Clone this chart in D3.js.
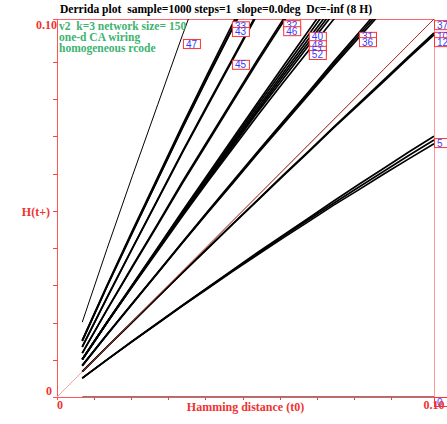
<!DOCTYPE html>
<html>
<head>
<meta charset="utf-8">
<script src="https://cdn.jsdelivr.net/npm/d3@7/dist/d3.min.js"></script>
<style>
  html, body { margin: 0; padding: 0; background: #fff; }
  svg { display: block; }
  text { white-space: pre; }
</style>
</head>
<body>
<svg id="chart" width="447" height="424"></svg>
<script>
// ---- data ----
const hamming = [0.0067, 0.0133, 0.0200, 0.0267, 0.0333, 0.0400, 0.0467, 0.0533,
                 0.0600, 0.0667, 0.0733, 0.0800, 0.0867, 0.0933, 0.1000];

const rule47 = [0.0198, 0.0393, 0.0585, 0.0773, 0.0958, 0.1139];
const rule33 = [0.0150, 0.0296, 0.0440, 0.0581, 0.0720, 0.0856, 0.0990, 0.1120];
const rule43 = [0.0149, 0.0294, 0.0436, 0.0576, 0.0714, 0.0848, 0.0980, 0.1110];
const rule44 = [0.0148, 0.0293, 0.0435, 0.0575, 0.0712, 0.0846, 0.0977, 0.1105];
const rule45 = [0.0132, 0.0263, 0.0393, 0.0521, 0.0647, 0.0771, 0.0894, 0.1015];
const rule41 = [0.0133, 0.0264, 0.0394, 0.0523, 0.0650, 0.0775, 0.0898, 0.1020];
const rule32 = [0.0116, 0.0232, 0.0346, 0.0458, 0.0570, 0.0679, 0.0787, 0.0894, 0.0999, 0.1102];
const rule46 = [0.0116, 0.0231, 0.0344, 0.0455, 0.0566, 0.0674, 0.0782, 0.0888, 0.0992, 0.1095];
const rule40 = [0.0100, 0.0199, 0.0297, 0.0395, 0.0492, 0.0589, 0.0685, 0.0780, 0.0875, 0.0969, 0.1062];
const rule42 = [0.0100, 0.0198, 0.0296, 0.0393, 0.0489, 0.0585, 0.0679, 0.0773, 0.0866, 0.0958, 0.1049];
const rule48 = [0.0099, 0.0198, 0.0295, 0.0391, 0.0487, 0.0581, 0.0674, 0.0766, 0.0857, 0.0947, 0.1035];
const rule49 = [0.0099, 0.0197, 0.0294, 0.0390, 0.0484, 0.0578, 0.0669, 0.0760, 0.0850, 0.0938, 0.1024];
const rule51 = [0.0099, 0.0197, 0.0294, 0.0389, 0.0482, 0.0574, 0.0665, 0.0755, 0.0842, 0.0929, 0.1014];
const rule52 = [0.0099, 0.0197, 0.0292, 0.0386, 0.0479, 0.0570, 0.0659, 0.0746, 0.0832, 0.0916, 0.0998, 0.1078];
const rule31 = [0.0083, 0.0166, 0.0248, 0.0329, 0.0410, 0.0491, 0.0571, 0.0650, 0.0729, 0.0807, 0.0886, 0.0963, 0.1040];
const rule34 = [0.0083, 0.0166, 0.0247, 0.0328, 0.0409, 0.0489, 0.0568, 0.0647, 0.0726, 0.0803, 0.0880, 0.0957, 0.1032];
const rule36 = [0.0083, 0.0165, 0.0247, 0.0328, 0.0408, 0.0488, 0.0566, 0.0645, 0.0722, 0.0799, 0.0875, 0.0950, 0.1025];
const rule10 = [0.0067, 0.0133, 0.0199, 0.0264, 0.0329, 0.0394, 0.0459, 0.0522, 0.0587, 0.0650, 0.0713, 0.0776, 0.0839, 0.0901, 0.0963];
const rule12 = [0.0067, 0.0133, 0.0198, 0.0264, 0.0329, 0.0393, 0.0458, 0.0521, 0.0585, 0.0648, 0.0711, 0.0773, 0.0835, 0.0897, 0.0958];
const rule5  = [0.0050, 0.0099, 0.0147, 0.0195, 0.0242, 0.0289, 0.0335, 0.0380, 0.0425, 0.0469, 0.0512, 0.0555, 0.0597, 0.0639, 0.0680];
const rule6  = [0.0050, 0.0099, 0.0148, 0.0196, 0.0243, 0.0290, 0.0337, 0.0383, 0.0428, 0.0473, 0.0518, 0.0562, 0.0605, 0.0648, 0.0690];
const rule7  = [0.0050, 0.0099, 0.0147, 0.0194, 0.0241, 0.0287, 0.0333, 0.0377, 0.0421, 0.0464, 0.0507, 0.0548, 0.0590, 0.0630, 0.0670];
const rule37 = [0.0067, 0.0133, 0.0200, 0.0267, 0.0333, 0.0400, 0.0467, 0.0533,
                0.0600, 0.0667, 0.0733, 0.0800, 0.0867, 0.0933, 0.1000];
const rule0  = [0, 0, 0, 0, 0, 0, 0, 0, 0, 0, 0, 0, 0, 0, 0];

const thinSeries  = [rule47];
const thickSeries = [rule33, rule43, rule44, rule45, rule41, rule32, rule46,
                     rule40, rule42, rule48, rule49, rule51, rule52, rule31, rule34, rule36,
                     rule10, rule12, rule5, rule6, rule7];

// rule-number tags: name, H(t0), H(t+) of the tag's top-left corner
const tagNames = ["47", "33", "43", "45", "32", "46", "40", "48", "51", "52", "31", "36", "37", "10", "12", "5", "0"];
const tagX     = [0.0334, 0.0464, 0.0464, 0.0464, 0.0600, 0.0600, 0.0668, 0.0668, 0.0668, 0.0668, 0.0801, 0.0801, 0.1000, 0.1000, 0.1000, 0.1000, 0.1000];
const tagY     = [0.0947, 0.0994, 0.0979, 0.0892, 0.0997, 0.0981, 0.0966, 0.0944, 0.0929, 0.0918, 0.0966, 0.0952, 0.0997, 0.0966, 0.0952, 0.0685, 0.0000];

const tickValues = [0.00985, 0.0197, 0.02954, 0.03938, 0.04923, 0.05908, 0.06892, 0.07877, 0.08862];

const titleText = "Derrida plot  sample=1000 steps=1  slope=0.0deg  Dc=-inf (8 H)";
const infoLines = ["v2  k=3 network size= 150", "one-d CA wiring", "homogeneous rcode"];

// ---- drawing ----
const svg = d3.select("#chart");
const x = d3.scaleLinear().domain([0, 0.1]).range([57, 434]);
const y = d3.scaleLinear().domain([0, 0.1]).range([397, 19]);

const serif = "'Liberation Serif', 'Times New Roman', serif";
const red = "#ee3333";

svg.append("defs").append("clipPath").attr("id", "plotclip")
  .append("rect").attr("x", 57).attr("y", 19).attr("width", 377).attr("height", 378);

// frame
svg.append("line").attr("x1", x(0)).attr("x2", x(0.1)).attr("y1", y(0.1) + 0.5).attr("y2", y(0.1) + 0.5)
  .attr("stroke", "#f66").attr("stroke-width", 1);
svg.append("line").attr("x1", x(0.1) + 0.5).attr("x2", x(0.1) + 0.5).attr("y1", y(0.1)).attr("y2", y(0))
  .attr("stroke", "#f99").attr("stroke-width", 1);

// axes
const xAxis = d3.axisBottom(x).tickValues(tickValues).tickSize(3).tickFormat("");
const yAxis = d3.axisLeft(y).tickValues(tickValues).tickSize(4).tickFormat("");
const gx = svg.append("g").attr("transform", `translate(0,${y(0)})`).call(xAxis);
const gy = svg.append("g").attr("transform", `translate(${x(0)},0)`).call(yAxis);
[gx, gy].forEach(g => {
  g.select(".domain").attr("stroke", "#f55").attr("shape-rendering", "crispEdges");
  g.selectAll(".tick line").attr("stroke", "#e44").attr("shape-rendering", "crispEdges");
});

// reference diagonal y = x
svg.append("line").attr("x1", x(0)).attr("y1", y(0)).attr("x2", x(0.1)).attr("y2", y(0.1))
  .attr("stroke", "#f7a0a0").attr("stroke-width", 1);

const line = d3.line().x((d, i) => x(hamming[i])).y(d => y(d));
const plot = svg.append("g").attr("clip-path", "url(#plotclip)");

plot.selectAll("path.thin").data(thinSeries).enter().append("path")
  .attr("class", "thin")
  .attr("d", d => line(d))
  .attr("fill", "none").attr("stroke", "#000").attr("stroke-width", 1);

plot.selectAll("path.thick").data(thickSeries).enter().append("path")
  .attr("class", "thick")
  .attr("d", d => line(d))
  .attr("fill", "none").attr("stroke", "#000").attr("stroke-width", 1.7);

plot.append("path").attr("d", line(rule37)).attr("fill", "none")
  .attr("stroke", "#a83030").attr("stroke-width", 1);
plot.append("path").attr("d", line(rule0)).attr("fill", "none")
  .attr("stroke", "#555").attr("stroke-width", 1.5);

// tags
const tags = svg.append("g");
tagNames.forEach((name, i) => {
  const tx = x(tagX[i]), ty = y(tagY[i]);
  tags.append("rect").attr("x", tx + 0.5).attr("y", ty + 0.5).attr("width", 17).attr("height", 9)
    .attr("fill", "#fff").attr("stroke", "#f33").attr("stroke-width", 1);
  tags.append("text").attr("x", tx + 3).attr("y", ty + 8.5).text(name)
    .attr("font-family", "'Liberation Sans', Arial, sans-serif").attr("font-size", 10)
    .attr("fill", "#3b3bff");
});

// texts
svg.append("text").attr("x", 60).attr("y", 13)
  .attr("textLength", 312).attr("lengthAdjust", "spacingAndGlyphs")
  .attr("font-family", serif).attr("font-weight", "bold").attr("font-size", 12.5)
  .attr("fill", "#000").text(titleText);

infoLines.forEach((t, i) => {
  svg.append("text").attr("x", 59).attr("y", 30 + i * 11)
    .attr("font-family", serif).attr("font-weight", "bold").attr("font-size", 11.5)
    .attr("fill", "#3cb371").text(t);
});

const redText = (tx, ty, t, anchor) => svg.append("text").attr("x", tx).attr("y", ty)
  .attr("text-anchor", anchor).attr("font-family", serif).attr("font-weight", "bold")
  .attr("font-size", 12).attr("fill", red).text(t);

redText(x(0), y(0.1) + 10, "0.10", "end");
redText(x(0) - 5, y(0) - 2, "0", "end");
redText(x(0), y(0) + 12, "0", "start");
redText(x(0.1), y(0) + 12, "0.10", "middle");
redText(x(0.05), y(0) + 14, "Hamming distance (t0)", "middle");
redText(x(0) - 7, y(0.05) + 8, "H(t+)", "end");
</script>
</body>
</html>
